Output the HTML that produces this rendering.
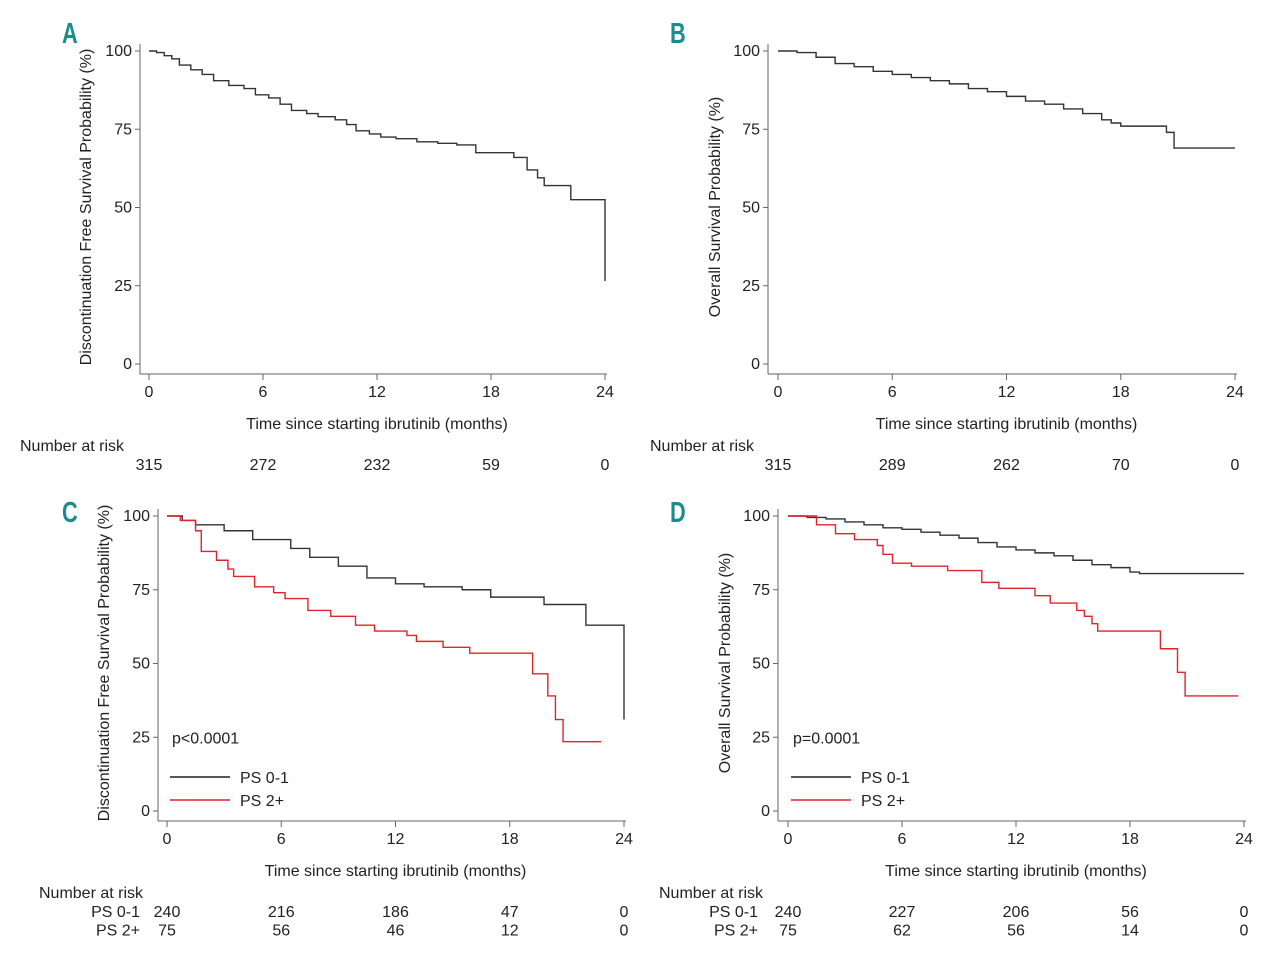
<!DOCTYPE html>
<html><head><meta charset="utf-8"><style>
body{margin:0;background:#fff}
svg{display:block;font-family:"Liberation Sans",sans-serif}
</style></head><body>
<svg id="fig" width="1280" height="965" viewBox="0 0 1280 965" xmlns="http://www.w3.org/2000/svg"></svg>
<script>
const tickX=[0,6,12,18,24];
const tickY=[0,25,50,75,100];
const aT=[0,0.4,0.8,1.2,1.6,2.2,2.8,3.4,4.2,5.0,5.6,6.3,6.9,7.5,8.3,8.9,9.8,10.4,10.9,11.6,12.2,13,14.1,15.2,16.2,17.2,19.2,19.9,20.45,20.8,22.2,24];
const aS=[100,99.5,98.5,97.5,95.5,94,92.5,90.5,89,88,86,85,83,81,80,79,78,76.5,74.5,73.5,72.5,72,71,70.5,70,67.5,66,62,59.5,57,52.5,26.5];
const bT=[0,1,2,3,4,5,6,7,8,9,10,11,12,13,14,15,16,17,17.5,18,20.4,20.8];
const bS=[100,99.5,98,96,95,93.5,92.5,91.5,90.5,89.5,88,87,85.5,84,83,81.5,80,78,77,76,74,69];
const bEnd=24;
const cBlkT=[0,0.8,1.5,3,4.5,6.5,7.5,9,10.5,12,13.5,15.5,17,19.8,22,24];
const cBlkS=[100,98.5,97,95,92,89,86,83,79,77,76,75,72.5,70,63,31];
const cRedT=[0,0.7,1.5,1.8,2.6,3.2,3.5,4.6,5.6,6.2,7.4,8.6,9.9,10.9,12.6,13.1,14.5,15.9,19.2,20,20.4,20.8];
const cRedS=[100,98.5,95,88,85,82,79.5,76,74,72,68,66,63,61,59.5,57.5,55.5,53.5,46.5,39,31,23.5];
const cRedEnd=22.8;
const dBlkT=[0,1,2,3,4,5,6,7,8,9,10,11,12,13,14,15,16,17,18,18.5];
const dBlkS=[100,99.5,99,98,97,96,95.5,94.5,93.5,92.5,91,89.5,88.5,87.5,86.5,85,83.5,82.5,81,80.5];
const dBlkEnd=24;
const dRedT=[0,1.5,2.5,3.5,4.7,5,5.5,6.5,8.4,10.2,11.1,13,13.8,15.2,15.6,16,16.3,19.6,20.5,20.9];
const dRedS=[100,97,94,92,90,87,84,83,81.5,77.5,75.5,73,70.5,68,66,63.5,61,55,47,39];
const dRedEnd=23.7;
const riskA=["315","272","232","59","0"];
const riskB=["315","289","262","70","0"];
const riskC1=["240","216","186","47","0"];
const riskC2=["75","56","46","12","0"];
const riskD1=["240","227","206","56","0"];
const riskD2=["75","62","56","14","0"];

const NS="http://www.w3.org/2000/svg";
const svg=document.getElementById('fig');
function mk(tag,attrs,parent){const e=document.createElementNS(NS,tag);for(const k in attrs)e.setAttribute(k,attrs[k]);(parent||svg).appendChild(e);return e;}
function txt(s,x,y,attrs,parent){const e=mk('text',Object.assign({x:x,y:y,'font-size':16,fill:'#222'},attrs||{}),parent);e.textContent=s;return e;}

function panel(o){
  const g=mk('g',{});
  
  
  const sx=t=>o.x0+(o.x1-o.x0)*t/24;
  const sy=v=>o.y0+(o.y100-o.y0)*v/100;
  const lab=txt(o.id,o.lx,o.ly,{'font-size':29,'font-weight':'bold',fill:'#1b8c8c',transform:`scale(0.75,1)`,'transform-origin':`${o.lx} ${o.ly}`},g);
  
  
  const ya=mk('line',{x1:o.ax,y1:sy(100)-7,x2:o.ax,y2:o.y0+10,stroke:'#666','stroke-width':1},g);
  
  
  const xa=mk('line',{x1:o.ax,y1:o.y0+10,x2:sx(24)+2,y2:o.y0+10,stroke:'#666','stroke-width':1},g);
  
  
  tickY.forEach(v=>{
    mk('line',{x1:o.ax-5,y1:sy(v),x2:o.ax,y2:sy(v),stroke:'#666'},g);
    const t=txt(String(v),o.ax-8,sy(v)+5,{'text-anchor':'end'},g);
    
    
  });
  tickX.forEach(v=>{
    mk('line',{x1:sx(v),y1:o.y0+10,x2:sx(v),y2:o.y0+16,stroke:'#666'},g);
    const t=txt(String(v),sx(v),o.y0+33,{'text-anchor':'middle'},g);
    
    
  });
  const xt=txt('Time since starting ibrutinib (months)',(sx(0)+sx(24))/2,o.y0+65,{'text-anchor':'middle'},g);
  
  
  const yt=txt(o.ytitle,0,0,{'text-anchor':'middle',transform:`translate(${o.ytx},${o.yty}) rotate(-90)`},g);
  
  
  o.series.forEach(s=>{
    let d=`M${sx(s.t[0])},${sy(s.s[0])}`;
    for(let i=1;i<s.t.length;i++){d+=` H${sx(s.t[i])} V${sy(s.s[i])}`;}
    if(s.end!=null)d+=` H${sx(s.end)}`;
    const p=mk('path',{d:d,fill:'none',stroke:s.color,'stroke-width':1.4},g);
    
    
  });
  const nr=txt('Number at risk',o.nrx,o.y0+87,{},g);
  
  
  o.risk.forEach((row,ri)=>{
    const yy=o.y0+106+ri*18.5;
    if(row.label){const l=txt(row.label,o.rlx,yy,{'text-anchor':'end'},g);
      
      }
    row.vals.forEach((v,i)=>{const t=txt(v,sx(tickX[i]),yy,{'text-anchor':'middle'},g);
      
      });
  });
  if(o.legend){
    const px=txt(o.p,sx(0)+5,sy(25)+6,{},g);
    
    
    [['PS 0-1','#222',777],['PS 2+','#e0242b',800]].forEach(([n,c,yy])=>{
      const le=mk('g',{},g);
      
      
      mk('line',{x1:sx(0)+3,y1:yy,x2:sx(0)+63,y2:yy,stroke:c,'stroke-width':1.4},le);
      txt(n,sx(0)+73,yy+6,{},le);
    });
  }
}
panel({id:'A',lx:62,ly:43,x0:149,x1:605,y0:364,y100:51,ax:140,ytx:91,yty:207,ytitle:'Discontinuation Free Survival Probability (%)',
  series:[{t:aT,s:aS,color:'#333',name:'curve-all'}],nrx:20,risk:[{vals:riskA}]});
panel({id:'B',lx:670,ly:43,x0:778,x1:1235,y0:364,y100:51,ax:768,ytx:720,yty:207,ytitle:'Overall Survival Probability (%)',
  series:[{t:bT,s:bS,end:bEnd,color:'#333',name:'curve-all'}],nrx:650,risk:[{vals:riskB}]});
panel({id:'C',lx:62,ly:522,x0:167,x1:624,y0:811,y100:516,ax:158,ytx:109,yty:663,ytitle:'Discontinuation Free Survival Probability (%)',
  series:[{t:cBlkT,s:cBlkS,color:'#333',name:'curve-ps-0-1'},{t:cRedT,s:cRedS,end:cRedEnd,color:'#e0242b',name:'curve-ps-2plus'}],
  nrx:39,rlx:140,risk:[{label:'PS 0-1',vals:riskC1},{label:'PS 2+',vals:riskC2}],legend:true,p:'p<0.0001'});
panel({id:'D',lx:670,ly:522,x0:788,x1:1244,y0:811,y100:516,ax:778,ytx:730,yty:663,ytitle:'Overall Survival Probability (%)',
  series:[{t:dBlkT,s:dBlkS,end:dBlkEnd,color:'#333',name:'curve-ps-0-1'},{t:dRedT,s:dRedS,end:dRedEnd,color:'#e0242b',name:'curve-ps-2plus'}],
  nrx:659,rlx:758,risk:[{label:'PS 0-1',vals:riskD1},{label:'PS 2+',vals:riskD2}],legend:true,p:'p=0.0001'});
</script>
</body></html>
